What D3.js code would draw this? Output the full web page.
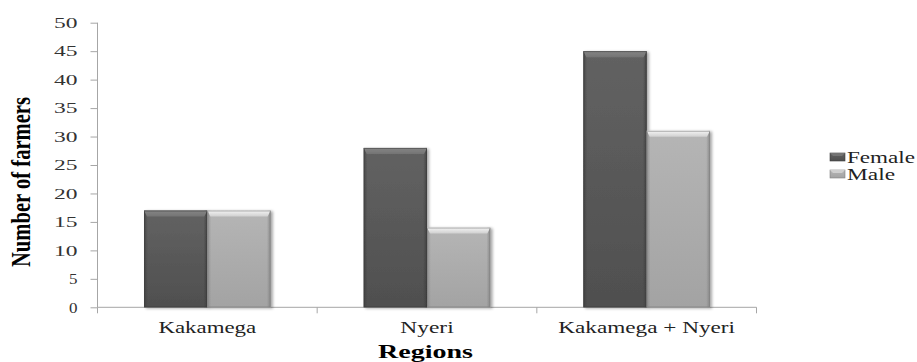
<!DOCTYPE html>
<html>
<head>
<meta charset="utf-8">
<script src="https://cdn.jsdelivr.net/npm/d3@7"></script>
<style>
  html, body { margin: 0; padding: 0; background: #fff; }
  svg { display: block; }
</style>
</head>
<body>
<svg id="chart" width="917" height="362"></svg>
<script>
// Farmers by region and gender
const regions = ["Kakamega", "Nyeri", "Kakamega + Nyeri"];
const series = ["Female", "Male"];
const female = [17, 28, 45];
const male = [17, 14, 31];
const yTicks = [0, 5, 10, 15, 20, 25, 30, 35, 40, 45, 50];

const rows = regions.map((r, i) => ({ region: r, Female: female[i], Male: male[i] }));

const FONT = "'Liberation Serif', 'Times New Roman', Times, serif";
const svg = d3.select("#chart");
const plot = { left: 97.5, right: 756.5, top: 22.7, bottom: 307.3 };

const x = d3.scaleBand().domain(regions).range([plot.left, plot.right]).paddingInner(0).paddingOuter(0);
const xs = d3.scaleBand().domain(series).range([0, x.bandwidth()]).paddingInner(0).paddingOuter(0.735);
const y = d3.scaleLinear().domain([0, 50]).range([plot.bottom, plot.top]);

// bar colour sets: top bevel, body top, body bottom, side edge, top highlight
const palette = {
  Female: { bevel: "#747474", top: "#626262", bottom: "#4f4f4f", edge: "#3c3c3c", hi: "#858585" },
  Male:   { bevel: "#cfcfcf", top: "#b5b5b5", bottom: "#a3a3a3", edge: "#808080", hi: "#f4f4f4" }
};

const defs = svg.append("defs");
series.forEach(s => {
  const g = defs.append("linearGradient").attr("id", "grad-" + s)
    .attr("x1", 0).attr("y1", 0).attr("x2", 0).attr("y2", 1);
  g.append("stop").attr("offset", "0%").attr("stop-color", palette[s].top);
  g.append("stop").attr("offset", "100%").attr("stop-color", palette[s].bottom);
  const h = defs.append("linearGradient").attr("id", "side-" + s)
    .attr("x1", 0).attr("y1", 0).attr("x2", 1).attr("y2", 0);
  h.append("stop").attr("offset", "0%").attr("stop-color", palette[s].edge).attr("stop-opacity", 0.7);
  h.append("stop").attr("offset", "6%").attr("stop-color", palette[s].edge).attr("stop-opacity", 0);
  h.append("stop").attr("offset", "94%").attr("stop-color", palette[s].edge).attr("stop-opacity", 0);
  h.append("stop").attr("offset", "100%").attr("stop-color", palette[s].edge).attr("stop-opacity", 0.8);
  const b = defs.append("linearGradient").attr("id", "bev-" + s)
    .attr("x1", 0).attr("y1", 0).attr("x2", 0).attr("y2", 1);
  b.append("stop").attr("offset", "0%").attr("stop-color", palette[s].hi);
  b.append("stop").attr("offset", "100%").attr("stop-color", palette[s].bevel);
});
const shadow = defs.append("filter").attr("id", "shadow")
  .attr("x", "-20%").attr("y", "-10%").attr("width", "140%").attr("height", "120%");
shadow.append("feGaussianBlur").attr("in", "SourceAlpha").attr("stdDeviation", 1.6).attr("result", "b");
shadow.append("feOffset").attr("in", "b").attr("dx", 2).attr("dy", 1).attr("result", "o");
shadow.append("feComponentTransfer").attr("in", "o").attr("result", "s")
  .append("feFuncA").attr("type", "linear").attr("slope", 0.35);
const merge = shadow.append("feMerge");
merge.append("feMergeNode").attr("in", "s");
merge.append("feMergeNode").attr("in", "SourceGraphic");

// axes
const axisColor = "#a6a6a6";
const yAxis = svg.append("g").attr("transform", `translate(${plot.left},0)`)
  .call(d3.axisLeft(y).tickValues(yTicks).tickSize(7).tickPadding(13).tickFormat(d3.format("d")));
yAxis.attr("font-family", FONT);
yAxis.select(".domain").attr("stroke", axisColor).attr("d", `M0,${plot.top}V${plot.bottom}`);
yAxis.selectAll(".tick line").attr("stroke", axisColor);
yAxis.selectAll(".tick text")
  .attr("font-size", 14).attr("fill", "#333").attr("font-family", FONT)
  .attr("textLength", d => String(d).length === 1 ? 8.5 : 23.5)
  .attr("lengthAdjust", "spacingAndGlyphs")
  .attr("dy", "0.34em");

const xAxis = svg.append("g").attr("transform", `translate(0,${plot.bottom})`);
xAxis.append("line").attr("x1", plot.left).attr("x2", plot.right).attr("y1", 0).attr("y2", 0)
  .attr("stroke", axisColor);
const boundaries = regions.map(r => x(r)).concat([x(regions[regions.length - 1]) + x.bandwidth()]);
xAxis.selectAll("line.tk").data(boundaries).join("line").attr("class", "tk")
  .attr("x1", d => d).attr("x2", d => d).attr("y1", 0).attr("y2", 6).attr("stroke", axisColor);

// category labels
const catWidths = { "Kakamega": 97.7, "Nyeri": 53.3, "Kakamega + Nyeri": 176.7 };
svg.append("g").selectAll("text").data(regions).join("text")
  .attr("x", d => x(d) + x.bandwidth() / 2).attr("y", 333)
  .attr("text-anchor", "middle").attr("font-size", 16).attr("fill", "#222").attr("font-family", FONT)
  .attr("textLength", d => catWidths[d]).attr("lengthAdjust", "spacingAndGlyphs")
  .text(d => d);

// bars with bevel
const bevel = 6, side = 3;
const groups = svg.append("g").selectAll("g").data(rows).join("g")
  .attr("transform", d => `translate(${x(d.region)},0)`);
series.forEach(s => {
  const bar = groups.append("g").attr("filter", "url(#shadow)");
  const bw = xs.bandwidth();
  bar.append("rect")
    .attr("x", xs(s)).attr("y", d => y(d[s])).attr("width", bw)
    .attr("height", d => y(0) - y(d[s])).attr("fill", `url(#grad-${s})`);
  bar.append("rect")
    .attr("x", xs(s)).attr("y", d => y(d[s])).attr("width", bw)
    .attr("height", d => y(0) - y(d[s])).attr("fill", `url(#side-${s})`);
  bar.append("path")
    .attr("d", d => {
      const x0 = xs(s), x1 = x0 + bw, t = y(d[s]);
      return `M${x0},${t}H${x1}L${x1 - side},${t + bevel}H${x0 + side}Z`;
    })
    .attr("fill", `url(#bev-${s})`);
  bar.append("rect")
    .attr("x", xs(s) + 0.5).attr("y", d => y(d[s]) + 0.5).attr("width", bw - 1)
    .attr("height", d => y(0) - y(d[s]) - 1).attr("fill", "none")
    .attr("stroke", palette[s].edge).attr("stroke-opacity", 0.55);
});

// axis titles
svg.append("text")
  .attr("transform", "translate(30,182) scale(1.4,1) rotate(-90)")
  .attr("text-anchor", "middle").attr("font-size", 20).attr("font-weight", "bold").attr("fill", "#000")
  .attr("font-family", FONT)
  .attr("textLength", 170).attr("lengthAdjust", "spacingAndGlyphs")
  .text("Number of farmers");
svg.append("text")
  .attr("x", (plot.left + plot.right) / 2 - 1.5).attr("y", 358)
  .attr("text-anchor", "middle").attr("font-size", 19).attr("font-weight", "bold").attr("fill", "#000")
  .attr("font-family", FONT)
  .attr("textLength", 95).attr("lengthAdjust", "spacingAndGlyphs")
  .text("Regions");

// legend
const legend = svg.append("g").selectAll("g").data(series).join("g")
  .attr("transform", (d, i) => `translate(830,${163 + i * 17})`);
legend.append("rect").attr("x", 0).attr("y", -10).attr("width", 15).attr("height", 8)
  .attr("fill", d => `url(#grad-${d})`).attr("stroke", d => palette[d].edge).attr("stroke-width", 0.6);
legend.append("path").attr("d", "M0,-10H15L12,-7H3Z").attr("fill", d => palette[d].bevel);
legend.append("text").attr("x", 17).attr("y", 0).attr("font-size", 16).attr("fill", "#222")
  .attr("font-family", FONT)
  .attr("textLength", d => d === "Female" ? 68 : 48).attr("lengthAdjust", "spacingAndGlyphs")
  .text(d => d);
</script>
</body>
</html>
